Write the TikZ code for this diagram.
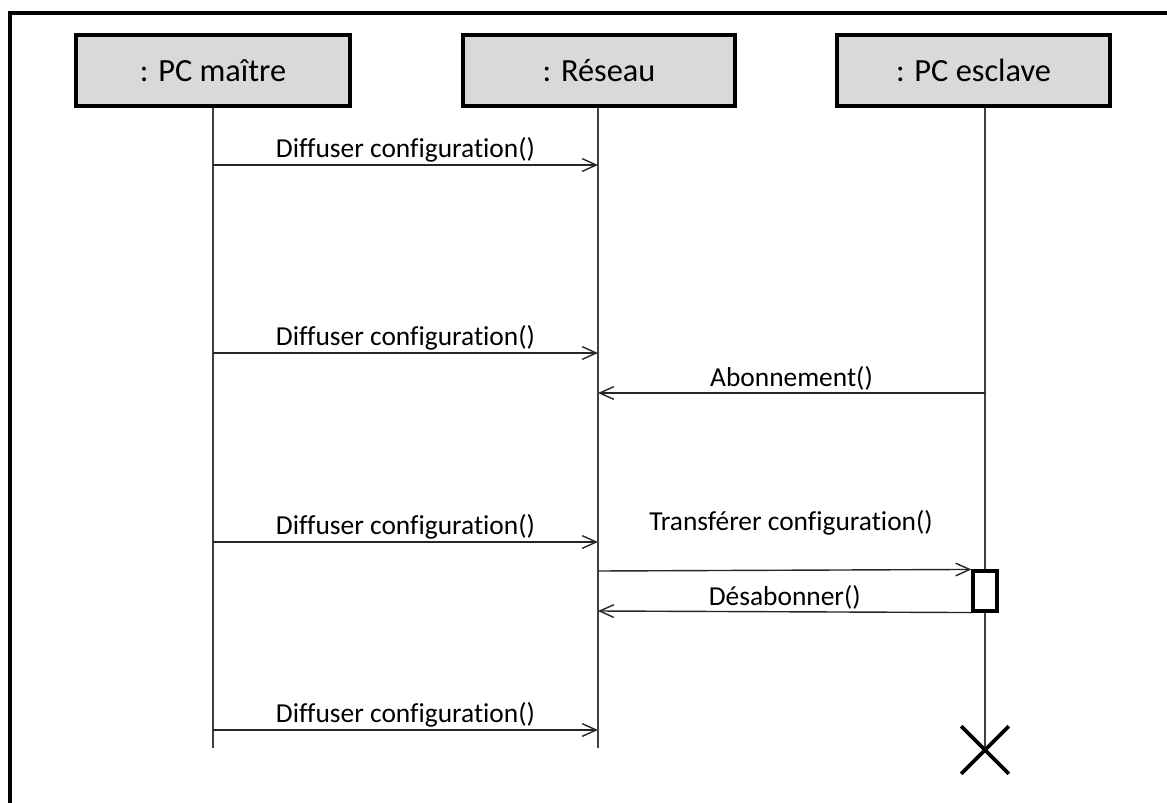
\documentclass[tikz,border=0pt]{standalone}
\usepackage{fontspec}
\setmainfont[Ligatures=NoCommon]{Carlito}
\usepackage{tikz}
\usetikzlibrary{arrows.meta}
\usetikzlibrary{shapes.misc}

\tikzset{
  head/.style={draw=black,line width=2.4pt,fill=gray!30,minimum width=274*0.025cm,minimum height=71*0.025cm,font=\fontsize{23}{27}\selectfont},
  lifeline/.style={draw=black!75,line width=1pt},
  msg/.style={-{Straight Barb[length=10pt,width=9pt]},draw=black!85,line width=1pt},
  lbl/.style={above,inner sep=1.2pt,font=\fontsize{19.5}{23}\selectfont},
  actbox/.style={draw=black,line width=2.2pt,fill=white,minimum width=24*0.025cm,minimum height=40*0.025cm,inner sep=0pt},
  killmark/.style={cross out,draw=black,line width=2.6pt,minimum size=44*0.025cm,inner sep=0pt}
}

\begin{document}
\begin{tikzpicture}[x=0.025cm,y=-0.025cm]

\useasboundingbox (0,0) rectangle (1167,803);

% frame
\draw[line width=2.2pt] (10,803) -- (10,13) -- (1167,13);

% lifeline heads
\node[head] (maitre) at (213,70.5) {: PC maître};
\node[head,minimum width=272*0.025cm] (reseau) at (599,70.5) {: Réseau};
\node[head,minimum width=273*0.025cm] (esclave) at (973.5,70.5) {: PC esclave};

\coordinate (mEnd) at (213,748);
\coordinate (rEnd) at (598,748);
\coordinate (eEnd) at (985,750);

\draw[lifeline] (maitre.south) -- (mEnd);
\draw[lifeline] (reseau.south -| rEnd) -- (rEnd);
\draw[lifeline] (esclave.south -| eEnd) -- (eEnd);

% activation and end of life
\node[actbox] (act) at (985,591) {};
\node[killmark] (kill) at (eEnd) {};

% messages
\coordinate (m1) at (213,165); \coordinate (r1) at (598,165);
\coordinate (m2) at (213,353); \coordinate (r2) at (598,353);
\coordinate (e3) at (985,393); \coordinate (r3) at (598,393);
\coordinate (m4) at (213,542); \coordinate (r4) at (598,542);
\coordinate (r5) at (598,571);
\coordinate (r6) at (598,611);
\coordinate (m7) at (213,730); \coordinate (r7) at (598,730);

\draw[msg] (m1) -- node[lbl] (d1) {Diffuser configuration()} (r1); %1
\draw[msg] (m2) -- node[lbl] (d2) {Diffuser configuration()} (r2); %2
\draw[msg] (e3) -- node[lbl] (ab) {Abonnement()} (r3); %3
\draw[msg] (m4) -- node[lbl] (d3) {Diffuser configuration()} (r4); %4
\draw[msg] (r5) -- (act.north west); %5
\node[anchor=base,inner sep=0pt,font=\fontsize{19.5}{23}\selectfont] (tr) at (791,530) {Transférer configuration()};
\draw[msg] (act.south west) -- node[lbl] (des) {Désabonner()} (r6); %6
\draw[msg] (m7) -- node[lbl] (d4) {Diffuser configuration()} (r7); %7

\end{tikzpicture}
\end{document}
